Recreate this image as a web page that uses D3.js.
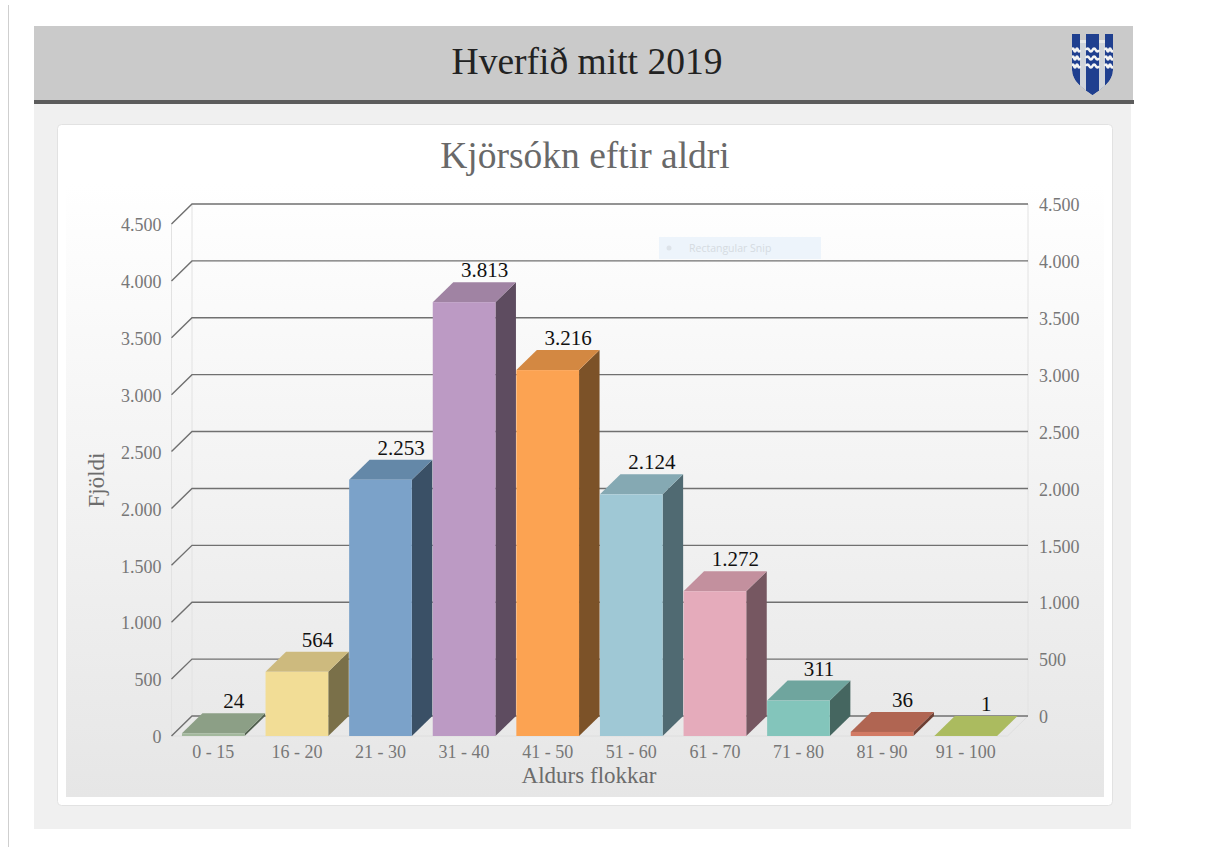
<!DOCTYPE html>
<html>
<head>
<meta charset="utf-8">
<script src="https://cdn.jsdelivr.net/npm/d3@7"></script>
<style>
  html, body { margin: 0; padding: 0; background: #fff; overflow: hidden; }
  text { font-family: Georgia, "Liberation Serif", serif; }
</style>
</head>
<body>
<script>
// values
const categories = ["0 - 15","16 - 20","21 - 30","31 - 40","41 - 50","51 - 60","61 - 70","71 - 80","81 - 90","91 - 100"];
const voters = [24, 564, 2253, 3813, 3216, 2124, 1272, 311, 36, 1];
const frontColors = ["#a3b89d","#f2dd96","#7ba2c9","#bc9ac4","#fca352","#9fc8d5","#e5abbb","#83c5bb","#d27a64","#b9c96a"];
const topColors   = ["#8c9f86","#cdba7e","#6488a8","#a083a3","#d38842","#85a9b3","#c3909e","#6fa59e","#b06552","#abbb5f"];
const sideColors  = ["#52604f","#7a7049","#3a5066","#5e4c60","#7c5228","#506a72","#765761","#456660","#6d3f33","#6f7a3d"];
const yTicks = [0, 500, 1000, 1500, 2000, 2500, 3000, 3500, 4000, 4500];

const pageTitle = "Hverfið mitt 2019";
const chartTitle = "Kjörsókn eftir aldri";
const yTitle = "Fjöldi";
const xTitle = "Aldurs flokkar";

const width = 1213, height = 847;
const depthX = 20.5, depthY = -20;   // 3d offset of the back wall

var svg = d3.select("body").append("svg")
            .attr("width", width)
            .attr("height", height)
            .style("display", "block");

// number format with dots, as on the original
const isLocale = d3.formatLocale({decimal: ",", thousands: ".", grouping: [3], currency: ["", ""]});
const fmt = isLocale.format(",d");

const x = d3.scaleBand().domain(categories).range([171.5, 1007.5]).paddingInner(0.25).paddingOuter(0.125);
const y = d3.scaleLinear().domain([0, 4500]).range([736, 224]);

const defs = svg.append("defs");
const grad = defs.append("linearGradient").attr("id", "plotBg").attr("x1", 0).attr("x2", 0).attr("y1", 0).attr("y2", 1);
grad.append("stop").attr("offset", "8%").attr("stop-color", "#ffffff");
grad.append("stop").attr("offset", "100%").attr("stop-color", "#e6e6e6");

// page furniture
svg.append("line").attr("x1", 8.5).attr("x2", 8.5).attr("y1", 5).attr("y2", height).attr("stroke", "#cfcfcf");
svg.append("rect").attr("x", 34).attr("y", 103).attr("width", 1097).attr("height", 726).attr("fill", "#f0f0f0");
svg.append("rect").attr("x", 34).attr("y", 26).attr("width", 1099).attr("height", 74).attr("fill", "#cacaca");
svg.append("rect").attr("x", 34).attr("y", 100).attr("width", 1100).attr("height", 4).attr("fill", "#5c5c5c");
svg.append("rect").attr("x", 57.5).attr("y", 124.5).attr("width", 1055).attr("height", 681).attr("rx", 4)
   .attr("fill", "#fff").attr("stroke", "#e2e2e2");
svg.append("rect").attr("x", 66).attr("y", 130).attr("width", 1038).attr("height", 667).attr("fill", "url(#plotBg)");

svg.append("text").attr("x", 587).attr("y", 74).attr("text-anchor", "middle")
   .attr("font-size", 37.5).attr("fill", "#222").text(pageTitle);
svg.append("text").attr("x", 585).attr("y", 168).attr("text-anchor", "middle")
   .attr("font-size", 37.5).attr("fill", "#696969").text(chartTitle);

// crest in the header
const crest = svg.append("g").attr("transform", "translate(1072,34)");
const crestPath = "M0,0H41V36C41,47 31,54 20.5,61C10,54 0,47 0,36Z";
defs.append("clipPath").attr("id", "crestClip").append("path").attr("d", crestPath);
const crestBody = crest.append("g").attr("clip-path", "url(#crestClip)");
crestBody.append("path").attr("d", crestPath).attr("fill", "#1f3f8f");
crestBody.append("rect").attr("x", 8).attr("y", 0).attr("width", 6).attr("height", 61).attr("fill", "#d0d4da");
crestBody.append("rect").attr("x", 27).attr("y", 0).attr("width", 6).attr("height", 61).attr("fill", "#d0d4da");
crestBody.append("rect").attr("x", 8).attr("y", 0).attr("width", 6).attr("height", 6).attr("fill", "#cacaca");
crestBody.append("rect").attr("x", 27).attr("y", 0).attr("width", 6).attr("height", 6).attr("fill", "#cacaca");
crestBody.append("rect").attr("x", 8).attr("y", 6).attr("width", 25).attr("height", 3).attr("fill", "#e8e8e8");
crestBody.append("rect").attr("x", 14).attr("y", 0).attr("width", 13).attr("height", 61).attr("fill", "#1f3f8f");
[[0, 8], [14, 27], [33, 41]].forEach(function(s) {
    [16, 24, 32].forEach(function(w) {
        const step = (s[1] - s[0]) / 4;
        let d = "M" + s[0] + "," + w;
        for (let i = 0; i < 4; i++) {
            d += "Q" + (s[0] + step * (i + 0.5)) + "," + (w + (i % 2 ? 3 : -3)) + " " + (s[0] + step * (i + 1)) + "," + w;
        }
        crestBody.append("path").attr("d", d).attr("fill", "none").attr("stroke", "#f4f4f4").attr("stroke-width", 2.6);
    });
});

// walls and floor
const x0 = x.range()[0], x1 = x.range()[1];
const wall = svg.append("g");
wall.append("line").attr("x1", x0).attr("x2", x0).attr("y1", y(4500)).attr("y2", y(0)).attr("stroke", "#e2e2e2");
wall.append("line").attr("x1", x0 + depthX).attr("x2", x0 + depthX).attr("y1", y(4500) + depthY).attr("y2", y(0) + depthY).attr("stroke", "#e2e2e2");
wall.append("line").attr("x1", x1 + depthX).attr("x2", x1 + depthX).attr("y1", y(4500) + depthY).attr("y2", y(0) + depthY).attr("stroke", "#e2e2e2");
wall.append("line").attr("x1", x0).attr("x2", x1).attr("y1", y(0)).attr("y2", y(0)).attr("stroke", "#dedede");
wall.append("line").attr("x1", x1).attr("x2", x1 + depthX).attr("y1", y(0)).attr("y2", y(0) + depthY).attr("stroke", "#dedede");

// grid lines on the back wall, with the diagonal on the left wall
yTicks.forEach(function(t) {
    wall.append("path")
        .attr("d", "M" + x0 + "," + y(t) + "L" + (x0 + depthX) + "," + (y(t) + depthY) + "H" + (x1 + depthX))
        .attr("fill", "none").attr("stroke", "#707070").attr("stroke-width", 1.4);
});

// faint floating snip tooltip captured in the original
svg.append("rect").attr("x", 659).attr("y", 237).attr("width", 162).attr("height", 22).attr("fill", "#edf4fb");
svg.append("circle").attr("cx", 669).attr("cy", 248).attr("r", 2.5).attr("fill", "#dde3e9");
svg.append("text").attr("x", 689).attr("y", 252).attr("font-size", 10.5).attr("fill", "#d5dbe1")
   .style("font-family", "'Open Sans', sans-serif").text("Rectangular Snip");

// axes
const leftAxis = svg.append("g").attr("transform", "translate(" + (x0 - 10) + ",1)")
   .call(d3.axisLeft(y).tickValues(yTicks).tickSize(0).tickPadding(0).tickFormat(fmt));
const rightAxis = svg.append("g").attr("transform", "translate(" + (x1 + depthX + 11) + "," + (depthY + 1) + ")")
   .call(d3.axisRight(y).tickValues(yTicks).tickSize(0).tickPadding(0).tickFormat(fmt));
const bottomAxis = svg.append("g").attr("transform", "translate(0,736)")
   .call(d3.axisBottom(x).tickSize(0).tickPadding(9));
[leftAxis, rightAxis, bottomAxis].forEach(function(a) {
    a.select(".domain").remove();
    a.selectAll("text").attr("font-size", 18).attr("fill", "#777").style("font-family", "Georgia, 'Liberation Serif', serif");
});

svg.append("text").attr("transform", "translate(104,480) rotate(-90)").attr("text-anchor", "middle")
   .attr("font-size", 23).attr("fill", "#6c6c6c").text(yTitle);
svg.append("text").attr("x", 589).attr("y", 783).attr("text-anchor", "middle")
   .attr("font-size", 23).attr("fill", "#6c6c6c").text(xTitle);

// bars: front, top and side faces
const bars = svg.append("g").selectAll("g")
    .data(voters)
    .enter()
    .append("g");

bars.append("path")
    .attr("fill", function(d, i) { return sideColors[i]; })
    .attr("d", function(d, i) {
        const r = x(categories[i]) + x.bandwidth();
        return "M" + r + "," + y(0) + "V" + y(d) + "l" + depthX + "," + depthY + "V" + (y(0) + depthY) + "Z";
    });
bars.append("path")
    .attr("fill", function(d, i) { return topColors[i]; })
    .attr("d", function(d, i) {
        const l = x(categories[i]);
        return "M" + l + "," + y(d) + "h" + x.bandwidth() + "l" + depthX + "," + depthY + "h" + (-x.bandwidth()) + "Z";
    });
bars.append("rect")
    .attr("x", function(d, i) { return x(categories[i]); })
    .attr("y", function(d) { return y(d); })
    .attr("width", x.bandwidth())
    .attr("height", function(d) { return y(0) - y(d); })
    .attr("fill", function(d, i) { return frontColors[i]; });

// value labels sit over the back edge of each top face
bars.append("text")
    .attr("x", function(d, i) { return x(categories[i]) + x.bandwidth() / 2 + depthX; })
    .attr("y", function(d) { return y(d) + depthY - 5; })
    .attr("text-anchor", "middle")
    .attr("font-size", 21)
    .attr("fill", "#111")
    .text(function(d) { return fmt(d); });
</script>
</body>
</html>
